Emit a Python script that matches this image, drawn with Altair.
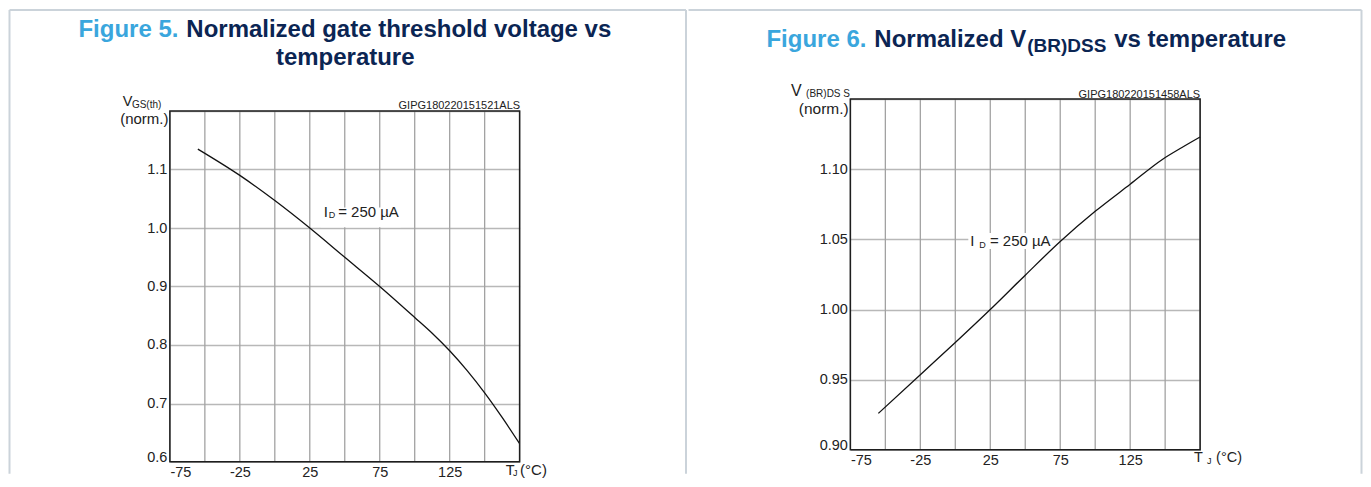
import altair as alt
import pandas as pd

# ---------------- data ----------------
# Figure 5: normalized gate threshold voltage vs junction temperature
TJ_LEFT = [-55, -25, 0, 25, 50, 75, 100, 112.5, 125, 137.5, 150, 162.5, 175]
VGS_NORM = [1.135, 1.090, 1.047, 1.000, 0.950, 0.900, 0.847, 0.820, 0.790,
            0.756, 0.718, 0.676, 0.631]

# Figure 6: normalized V(BR)DSS vs junction temperature
TJ_RIGHT = [-55, -25, 0, 25, 50, 75, 100, 125, 148, 162, 175]
VBR_NORM = [0.926, 0.9536, 0.9765, 1.000, 1.0245, 1.0485, 1.070, 1.0893, 1.107, 1.1155, 1.123]

X_GRID = [-75, -50, -25, 0, 25, 50, 75, 100, 125, 150, 175]
X_LABELS = [-75, -25, 25, 75, 125]
Y_GRID_LEFT = [round(0.6 + 0.05 * i, 3) for i in range(13)]
Y_LABELS_LEFT = [0.6, 0.7, 0.8, 0.9, 1.0, 1.1]
Y_GRID_RIGHT = [round(0.9 + 0.025 * i, 3) for i in range(11)]
Y_LABELS_RIGHT = [0.9, 0.95, 1.0, 1.05, 1.1]

ANNOT_LEFT = {"T": 35, "V": 1.018}
ANNOT_RIGHT = {"T": 10.7, "V": 1.0453}
BOX_LEFT = {"T": 33, "T2": 90, "V": 1.0015, "V2": 1.035}
BOX_RIGHT = {"T": 9.3, "T2": 69.3, "V": 1.0432, "V2": 1.0546}

# ---------------- styling ----------------
FONT = "Liberation Sans"
INK = "#222222"
BLUE = "#3aa6dd"
NAVY = "#0b2553"
BORDER = "#cbd3da"
FRAME = "#1e1e1e"
W, H = 350, 351
DROP = 12          # left plot sits 12 px lower than the right one
ONE = alt.Data(values=[{"k": 0}])


def txt(text, x, y, size, color=INK, weight="normal", align="left"):
    return alt.Chart(ONE).mark_text(
        text=text, fontSize=size, color=color, fontWeight=weight, align=align,
        baseline="alphabetic", font=FONT
    ).encode(x=alt.value(x), y=alt.value(y))


def hrule(y, x1, x2):
    return alt.Chart(ONE).mark_rule(color=BORDER, strokeWidth=2).encode(
        y=alt.value(y), x=alt.value(x1), x2=alt.value(x2))


def vrule(x, y1, y2):
    return alt.Chart(ONE).mark_rule(color=BORDER, strokeWidth=2).encode(
        x=alt.value(x), y=alt.value(y1), y2=alt.value(y2))


def encs(ydomain, yrange, ygrid, ylabels, yfmt):
    xl = ",".join(str(v) for v in X_LABELS)
    yl = ",".join(repr(v) for v in ylabels)
    xenc = alt.X("T:Q", scale=alt.Scale(domain=[-75, 175], nice=False, zero=False),
                 axis=alt.Axis(values=X_GRID, title=None, grid=False, ticks=False, domain=False,
                               labelExpr=f"indexof([{xl}], datum.value) >= 0 ? ('' + datum.value) : ''",
                               labelPadding=4))
    yenc = alt.Y("V:Q", scale=alt.Scale(domain=ydomain, nice=False, zero=False, range=yrange),
                 axis=alt.Axis(values=ygrid, title=None, grid=True, ticks=False, domain=False,
                               labelExpr=f"indexof([{yl}], datum.value) >= 0 ? format(datum.value, '{yfmt}') : ''",
                               labelPadding=3, gridColor="#b8b8b8", gridWidth=1.5,
                               labelBaseline={"condition": {"test": f"datum.value == {ydomain[0]}",
                                                            "value": "alphabetic"},
                                              "value": "middle"}))
    return xenc, yenc


def panel(T, V, ydomain, yrange, ygrid, ylabels, yfmt, annot, box, dxs):
    xenc, yenc = encs(ydomain, yrange, ygrid, ylabels, yfmt)
    # vertical grid lines, one per x grid value, spanning the y domain
    vgrid = alt.Chart(pd.DataFrame({"T": X_GRID})).mark_rule(
        color="#a2a2a2", strokeWidth=1.3).encode(
        x=xenc, y=alt.datum(ydomain[1]), y2=alt.datum(ydomain[0]))
    df = pd.DataFrame({"T": T, "V": V})
    rect = alt.Chart(pd.DataFrame([box])).mark_rect(color="white").encode(
        x=xenc, x2="T2:Q", y=yenc, y2="V2:Q")
    line = alt.Chart(df).mark_line(color="#111111", strokeWidth=1.3,
                                   interpolate="monotone").encode(x=xenc, y=yenc)
    adf = pd.DataFrame([annot])
    a1 = alt.Chart(adf).mark_text(text="I", fontSize=15, color=INK, align="left",
                                  baseline="alphabetic", font=FONT).encode(x=xenc, y=yenc)
    a2 = alt.Chart(adf).mark_text(text="D", fontSize=9, color=INK, align="left", dx=dxs[0], dy=dxs[1],
                                  baseline="alphabetic", font=FONT).encode(x=xenc, y=yenc)
    a3 = alt.Chart(adf).mark_text(text="= 250 µA", fontSize=15, color=INK, align="left", dx=dxs[2],
                                  baseline="alphabetic", font=FONT).encode(x=xenc, y=yenc)
    return [vgrid, rect, line, a1, a2, a3]


def frame(top, bottom):
    return alt.Chart(ONE).mark_rect(filled=False, stroke=FRAME, strokeWidth=1.5).encode(
        x=alt.value(0), x2=alt.value(W), y=alt.value(top), y2=alt.value(bottom))


# ---------------- left panel (Figure 5) ----------------
D = DROP
left = alt.layer(
    *panel(TJ_LEFT, VGS_NORM, [0.6, 1.2], [H + D, D], Y_GRID_LEFT, Y_LABELS_LEFT, ".1f",
           ANNOT_LEFT, BOX_LEFT, (5, 1, 14.4)),
    frame(D, H + D),
    # panel frame
    hrule(-101.25 + D, -160.5, 516.5),
    vrule(-160.5, -101.25 + D, 363 + D),
    vrule(516.5, -101.25 + D, 363 + D),
    # title
    txt("Figure 5.", 8.5, -73.75 + D, 24, BLUE, "bold", "right"),
    txt("Normalized gate threshold voltage vs", 16.5, -73.75 + D, 24, NAVY, "bold"),
    txt("temperature", 175.5, -45.75 + D, 24, NAVY, "bold", "center"),
    # axis titles
    txt("V", -47.2, -5.25 + D, 14.5),
    txt("GS(th)", -38, -2.75 + D, 10),
    txt("(norm.)", -1.5, 13.25 + D, 15, align="right"),
    txt("GIPG180220151521ALS", 350.5, -2 + D, 11, align="right"),
    txt("T", 336.2, 363.75 + D, 14.5),
    txt("J", 343.4, 365.5 + D, 9),
    txt("(°C)", 350.5, 363.75 + D, 15),
).properties(width=W, height=H + D, view=alt.ViewBackground(strokeOpacity=0))

# ---------------- right panel (Figure 6) ----------------
right = alt.layer(
    *panel(TJ_RIGHT, VBR_NORM, [0.9, 1.15], [H, 0], Y_GRID_RIGHT, Y_LABELS_RIGHT, ".2f",
           ANNOT_RIGHT, BOX_RIGHT, (9, 1.7, 19.7)),
    frame(0, H),
    hrule(-89.25, -162, 511.5),
    vrule(511.5, -89.25, 375),
    txt("Figure 6.", 16, -51.75, 24, BLUE, "bold", "right"),
    txt("Normalized V", 24, -51.75, 24, NAVY, "bold"),
    txt("(BR)DSS", 177, -46.75, 19, NAVY, "bold"),
    txt("vs temperature", 436, -51.75, 24, NAVY, "bold", "right"),
    txt("V", -59.3, -3.25, 16),
    txt("(BR)DS S", -44.3, -1.75, 10),
    txt("(norm.)", -1.7, 15.15, 15.5, align="right"),
    txt("GIPG180220151458ALS", 350, -1.55, 11, align="right"),
    txt("T", 344, 363.45, 14.5),
    txt("J", 357, 365.2, 9),
    txt("(°C)", 366, 363.45, 14.5),
).properties(width=W, height=H, view=alt.ViewBackground(strokeOpacity=0))

chart = alt.hconcat(left, right, spacing=0).properties(padding=0).configure_axis(
    labelFont=FONT, labelFontSize=14.5, labelColor=INK
)

chart.save("out.html", embed_options={"renderer": "svg", "actions": False})
